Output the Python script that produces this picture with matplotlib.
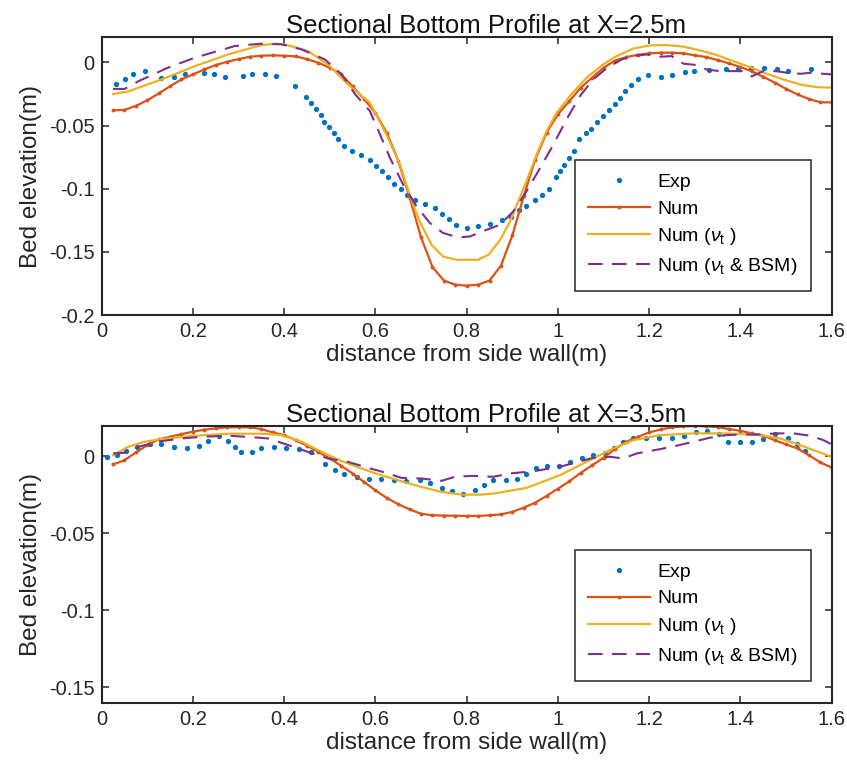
import matplotlib
matplotlib.use("Agg")
import matplotlib.pyplot as plt
from matplotlib.ticker import FuncFormatter
import numpy as np

plt.rcParams["font.family"] = ["Liberation Sans", "DejaVu Sans"]
plt.rcParams["mathtext.fontset"] = "custom"
plt.rcParams["mathtext.rm"] = "Liberation Sans"
plt.rcParams["mathtext.it"] = "Liberation Sans:italic"
plt.rcParams["axes.unicode_minus"] = False

# ---- section X=2.5m ----
exp1_x = [0.032, 0.052, 0.069, 0.096, 0.131, 0.158, 0.183, 0.224, 0.246, 0.271,
          0.309, 0.330, 0.357, 0.383, 0.423, 0.447, 0.458, 0.469, 0.480, 0.488,
          0.499, 0.509, 0.519, 0.531, 0.548, 0.569, 0.587, 0.601, 0.615, 0.628,
          0.641, 0.656, 0.670, 0.686, 0.708, 0.730, 0.745, 0.761, 0.776, 0.800,
          0.825, 0.852, 0.878, 0.896, 0.914, 0.930, 0.950, 0.966, 0.980, 0.996,
          1.004, 1.013, 1.025, 1.035, 1.047, 1.061, 1.072, 1.085, 1.098, 1.112,
          1.124, 1.136, 1.148, 1.161, 1.175, 1.198, 1.226, 1.251, 1.278, 1.299,
          1.330, 1.368, 1.394, 1.423, 1.452, 1.481, 1.505, 1.555]
exp1_y = [-0.017, -0.0135, -0.0095, -0.0069, -0.012, -0.0116, -0.0095, -0.0082, -0.0095, -0.0116,
          -0.011, -0.009, -0.009, -0.011, -0.019, -0.027, -0.032, -0.0365, -0.0415, -0.047,
          -0.0513, -0.056, -0.061, -0.066, -0.070, -0.073, -0.0775, -0.082, -0.086, -0.091,
          -0.096, -0.100, -0.105, -0.109, -0.112, -0.115, -0.120, -0.124, -0.1286, -0.131,
          -0.1296, -0.128, -0.125, -0.122, -0.117, -0.114, -0.109, -0.105, -0.1005, -0.091,
          -0.086, -0.081, -0.0757, -0.070, -0.061, -0.056, -0.0526, -0.047, -0.0426, -0.0378,
          -0.033, -0.028, -0.023, -0.018, -0.013, -0.010, -0.0114, -0.0098, -0.0074, -0.0066,
          -0.006, -0.005, -0.005, -0.0045, -0.0048, -0.005, -0.0069, -0.0056]

num_x = [0.025, 0.05, 0.075, 0.1, 0.125, 0.15, 0.175, 0.2, 0.225, 0.25,
         0.275, 0.3, 0.325, 0.35, 0.375, 0.4, 0.425, 0.45, 0.475, 0.5,
         0.525, 0.55, 0.575, 0.6, 0.625, 0.65, 0.675, 0.7, 0.725, 0.75,
         0.775, 0.8, 0.825, 0.85, 0.875, 0.9, 0.925, 0.95, 0.975, 1.0,
         1.025, 1.05, 1.075, 1.1, 1.125, 1.15, 1.175, 1.2, 1.225, 1.25,
         1.275, 1.3, 1.325, 1.35, 1.375, 1.4, 1.425, 1.45, 1.475, 1.5,
         1.525, 1.55, 1.575, 1.6]
num1_y = [-0.038, -0.0376, -0.0344, -0.030, -0.0246, -0.0188, -0.0135, -0.0095, -0.0056, -0.0021,
          0.0005, 0.0026, 0.0045, 0.0053, 0.0056, 0.0053, 0.0048, 0.0026, -0.0003, -0.0042,
          -0.0095, -0.019, -0.029, -0.040, -0.0558, -0.0778, -0.107, -0.1386, -0.162, -0.1727,
          -0.176, -0.1767, -0.176, -0.1727, -0.161, -0.137, -0.106, -0.077, -0.0558, -0.041,
          -0.0307, -0.020, -0.012, -0.0042, 0.0015, 0.0042, 0.0061, 0.0071, 0.0077, 0.0077,
          0.0071, 0.0056, 0.0042, 0.0018, -0.0008, -0.0037, -0.0071, -0.0114, -0.016, -0.021,
          -0.0254, -0.029, -0.0315, -0.0317]

nut1_x = [0.025, 0.058, 0.131, 0.204, 0.277, 0.350, 0.379, 0.401, 0.452, 0.496,
          0.540, 0.588, 0.624, 0.654, 0.675, 0.697, 0.723, 0.748, 0.778, 0.825,
          0.849, 0.874, 0.895, 0.913, 0.931, 0.953, 0.975, 0.997, 1.026, 1.063,
          1.099, 1.128, 1.165, 1.202, 1.238, 1.275, 1.311, 1.348, 1.384, 1.421,
          1.458, 1.494, 1.531, 1.567, 1.6]
nut1_y = [-0.025, -0.023, -0.0135, -0.003, 0.0063, 0.0137, 0.0148, 0.0143, 0.009, -0.0016,
          -0.0175, -0.032, -0.057, -0.081, -0.105, -0.126, -0.1444, -0.1537, -0.1563, -0.1563,
          -0.152, -0.140, -0.126, -0.110, -0.094, -0.073, -0.0545, -0.040, -0.0267, -0.012,
          -0.0016, 0.005, 0.011, 0.0135, 0.0137, 0.0125, 0.0095, 0.0059, 0.001, -0.0037,
          -0.009, -0.0135, -0.0175, -0.0196, -0.020]

bsm1_x = [0.025, 0.050, 0.080, 0.145, 0.204, 0.292, 0.350, 0.394, 0.438, 0.489,
          0.526, 0.555, 0.588, 0.610, 0.632, 0.661, 0.690, 0.719, 0.748, 0.781,
          0.807, 0.840, 0.873, 0.902, 0.931, 0.961, 0.990, 1.019, 1.048, 1.077,
          1.107, 1.140, 1.165, 1.194, 1.224, 1.249, 1.275, 1.304, 1.326, 1.355,
          1.384, 1.406, 1.425, 1.450, 1.479, 1.501, 1.531, 1.553, 1.600]
bsm1_y = [-0.021, -0.021, -0.015, -0.0042, 0.0037, 0.013, 0.0148, 0.0143, 0.0103, 0.0024,
          -0.0095, -0.025, -0.0386, -0.057, -0.0757, -0.097, -0.114, -0.127, -0.135, -0.1386,
          -0.1378, -0.133, -0.1286, -0.118, -0.102, -0.0836, -0.065, -0.045, -0.0267, -0.0135,
          -0.0045, 0.0024, 0.005, 0.0063, 0.0045, 0.005, -0.001, -0.0021, -0.0056, -0.0069,
          -0.0069, -0.0069, -0.011, -0.0069, -0.0069, -0.0082, -0.009, -0.0082, -0.0095]

# ---- section X=3.5m ----
exp2_x = [0.0125, 0.034, 0.054, 0.078, 0.105, 0.131, 0.158, 0.186, 0.213, 0.233,
          0.257, 0.277, 0.293, 0.306, 0.330, 0.350, 0.378, 0.405, 0.432, 0.458,
          0.490, 0.511, 0.531, 0.559, 0.586, 0.613, 0.641, 0.668, 0.697, 0.719,
          0.745, 0.767, 0.792, 0.818, 0.838, 0.858, 0.886, 0.911, 0.931, 0.952,
          0.977, 1.003, 1.026, 1.053, 1.077, 1.103, 1.123, 1.142, 1.165, 1.192,
          1.221, 1.249, 1.276, 1.303, 1.327, 1.352, 1.373, 1.398, 1.425, 1.450,
          1.476, 1.505, 1.523, 1.542]
exp2_y = [-0.0002, 0.0008, 0.0035, 0.0063, 0.0078, 0.0078, 0.0063, 0.0057, 0.007, 0.010,
          0.0132, 0.010, 0.0059, 0.0026, 0.0026, 0.0057, 0.0063, 0.0052, 0.0048, 0.003,
          -0.0046, -0.0085, -0.0115, -0.0132, -0.0143, -0.0148, -0.0154, -0.0158, -0.0154, -0.017,
          -0.0204, -0.0226, -0.0243, -0.022, -0.0187, -0.0154, -0.0154, -0.0148, -0.0115, -0.0078,
          -0.0063, -0.0061, -0.0035, -0.0007, 0.0008, 0.0024, 0.0052, 0.0091, 0.0117, 0.0122,
          0.0117, 0.0117, 0.0135, 0.0161, 0.0165, 0.0143, 0.0096, 0.0091, 0.0091, 0.0113,
          0.0143, 0.0117, 0.0078, 0.0035]

num2_y = [-0.0052, -0.0024, 0.0026, 0.0074, 0.0111, 0.0128, 0.0145, 0.0161, 0.0174, 0.0183,
          0.0189, 0.0191, 0.0189, 0.0178, 0.0156, 0.0139, 0.0106, 0.007, 0.003, -0.0013,
          -0.0061, -0.0111, -0.0165, -0.022, -0.027, -0.031, -0.0344, -0.0372, -0.0382, -0.0384,
          -0.0385, -0.0386, -0.0386, -0.0382, -0.0376, -0.036, -0.0332, -0.030, -0.0256, -0.0209,
          -0.0161, -0.0106, -0.0057, -0.0008, 0.0048, 0.0096, 0.0128, 0.0156, 0.0176, 0.0189,
          0.0196, 0.0198, 0.0196, 0.0191, 0.0178, 0.0167, 0.015, 0.0135, 0.0106, 0.0078,
          0.0052, 0.0008, -0.0039, -0.0072]

nut2_x = [0.025, 0.058, 0.094, 0.131, 0.204, 0.277, 0.350, 0.394, 0.438, 0.482,
          0.526, 0.569, 0.613, 0.657, 0.701, 0.745, 0.789, 0.830, 0.858, 0.931,
          1.004, 1.077, 1.121, 1.165, 1.224, 1.297, 1.370, 1.443, 1.487, 1.531,
          1.560, 1.600]
nut2_y = [0.0008, 0.0063, 0.0096, 0.0113, 0.0135, 0.0148, 0.0148, 0.0139, 0.0096, 0.003,
          -0.003, -0.0078, -0.0122, -0.0161, -0.0198, -0.023, -0.0248, -0.0248, -0.0241, -0.0204,
          -0.0122, -0.0013, 0.0052, 0.0106, 0.0139, 0.015, 0.015, 0.0139, 0.0117, 0.0074,
          0.0041, -0.0002]

bsm2_x = [0.025, 0.050, 0.080, 0.131, 0.175, 0.219, 0.277, 0.328, 0.365, 0.409,
          0.452, 0.496, 0.540, 0.584, 0.621, 0.657, 0.701, 0.745, 0.774, 0.811,
          0.858, 0.895, 0.946, 1.004, 1.077, 1.114, 1.143, 1.173, 1.224, 1.260,
          1.297, 1.333, 1.370, 1.406, 1.443, 1.479, 1.516, 1.553, 1.582, 1.600]
bsm2_y = [0.002, 0.0024, 0.0063, 0.010, 0.0117, 0.0128, 0.0135, 0.0126, 0.0117, 0.0074,
          0.003, -0.0013, -0.0035, -0.0074, -0.0104, -0.0139, -0.0143, -0.0158, -0.0132, -0.0126,
          -0.0132, -0.011, -0.0096, -0.0067, -0.0009, -0.0002, -0.0013, 0.002, 0.0048, 0.007,
          0.0096, 0.0122, 0.0139, 0.0143, 0.0143, 0.015, 0.015, 0.0135, 0.0106, 0.0078]

labels = ["Exp", "Num", r"Num ($\nu_{\rm t}$ )", r"Num ($\nu_{\rm t}$ & BSM)"]
c_exp = "#0072BD"
c_num = "#D95319"
c_nut = "#EDB120"
c_bsm = "#7E2F8E"

fig = plt.figure(figsize=(8.47, 7.74), dpi=100)


def fmt(v, pos):
    return "%g" % round(v, 4)


def draw(ax, ex, ey, ny, tx, ty, bx, by, title, ylim, yticks, leg_top):
    ax.plot(ex, ey, "o", color=c_exp, ms=3.8, mew=0, label=labels[0])
    ax.plot(num_x, ny, "-o", color=c_num, lw=1.6, ms=2.8, mew=0, label=labels[1])
    ax.plot(tx, ty, "-", color=c_nut, lw=1.6, label=labels[2])
    ax.plot(bx, by, color=c_bsm, lw=1.5, ls=(0, (7, 4.5)), label=labels[3])
    ax.set_xlim(0, 1.6)
    ax.set_ylim(ylim)
    ax.set_xticks(np.arange(0, 1.61, 0.2))
    ax.set_yticks(yticks)
    ax.xaxis.set_major_formatter(FuncFormatter(fmt))
    ax.yaxis.set_major_formatter(FuncFormatter(fmt))
    ax.tick_params(direction="in", top=True, right=True, length=5, width=1.1,
                   labelsize=14.5, color="#262626", labelcolor="#262626", pad=5)
    for s in ax.spines.values():
        s.set_linewidth(1.5)
        s.set_color("#262626")
    ax.set_xlabel("distance from side wall(m)", fontsize=17.5, color="#262626", labelpad=2)
    ax.set_ylabel("Bed elevation(m)", fontsize=17.5, color="#262626", labelpad=5)
    ax.set_title(title, fontsize=18.5, color="#111111", pad=3, x=0.526)
    leg = ax.legend(loc="upper right", bbox_to_anchor=(0.972, leg_top), fontsize=14,
                    numpoints=1, handlelength=3.2, handletextpad=0.35, labelspacing=0.45,
                    borderpad=0.7, borderaxespad=0, fancybox=False, framealpha=1,
                    edgecolor="#262626")
    leg.get_frame().set_linewidth(1.1)


ax1 = fig.add_axes([0.120, 0.593, 0.862, 0.359])
draw(ax1, exp1_x, exp1_y, num1_y, nut1_x, nut1_y, bsm1_x, bsm1_y,
     "Sectional Bottom Profile at X=2.5m", (-0.2, 0.02),
     [-0.2, -0.15, -0.1, -0.05, 0], 0.558)

ax2 = fig.add_axes([0.120, 0.092, 0.862, 0.358])
draw(ax2, exp2_x, exp2_y, num2_y, nut2_x, nut2_y, bsm2_x, bsm2_y,
     "Sectional Bottom Profile at X=3.5m", (-0.16, 0.02),
     [-0.15, -0.1, -0.05, 0], 0.552)

fig.savefig("out.png", dpi=100)
